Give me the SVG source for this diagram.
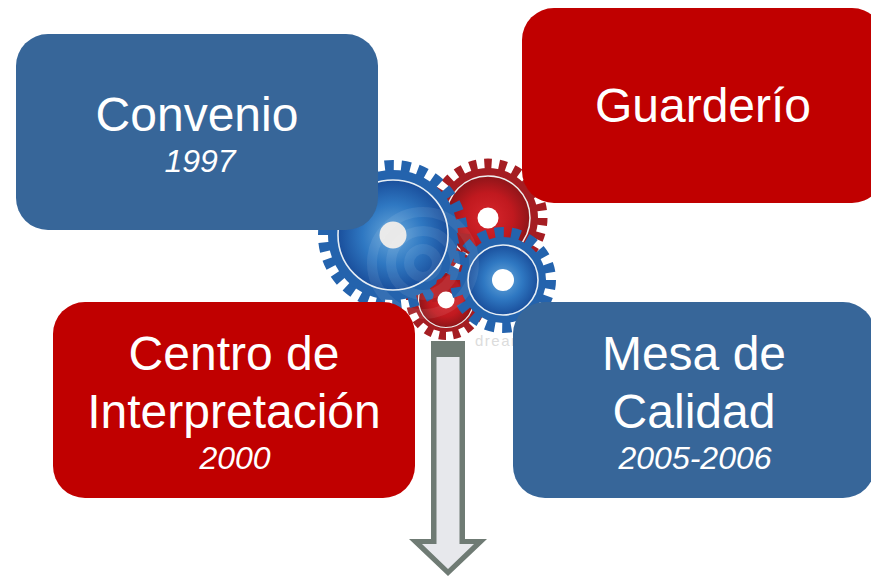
<svg xmlns="http://www.w3.org/2000/svg" width="871" height="576" viewBox="0 0 871 576">
<style>
text{font-family:"Liberation Sans",Arial,sans-serif;fill:#fff;text-anchor:middle}
.t{font-size:48px}
.d{font-size:32px;font-style:italic}
.b{fill:#376699}
.r{fill:#c00000}
.ring{fill:none;stroke:#e6eef5;stroke-width:1.6}
.hole{fill:#fff}
.tb{fill:none;stroke:#2463ad}
.tr{fill:none;stroke:#a51d22}
</style>
<defs>
<radialGradient id="gb"><stop offset="0" stop-color="#6aa9dc"/><stop offset=".55" stop-color="#2f78c2"/><stop offset="1" stop-color="#1a4f9c"/></radialGradient>
<radialGradient id="gr"><stop offset="0" stop-color="#d8262c"/><stop offset=".6" stop-color="#c0191f"/><stop offset="1" stop-color="#8e1519"/></radialGradient>
</defs>
<rect width="871" height="576" fill="#fff"/>
<g id="gears">
<text x="475" y="346" font-size="15" letter-spacing="1.5" style="fill:#dcdcdc;text-anchor:start">dreamstime</text>
<g id="gear-red-top">
<circle class="tr" cx="488" cy="218" r="53" stroke-width="13" pathLength="46" stroke-dasharray="1 1"/>
<circle cx="488" cy="218" r="50" fill="#a51d22"/>
<circle cx="488" cy="218" r="42" fill="url(#gr)" stroke="#eee" stroke-width="1.5"/>
<circle class="hole" cx="488" cy="218" r="10.5"/>
</g>
<g id="gear-red-small">
<circle class="tr" cx="446" cy="300" r="35" stroke-width="10" pathLength="32" stroke-dasharray="1 1"/>
<circle cx="446" cy="300" r="32" fill="#a51d22"/>
<circle cx="446" cy="300" r="27.5" fill="url(#gr)" stroke="#eee" stroke-width="1.2"/>
</g>
<g id="gear-blue-big">
<circle class="tb" cx="393" cy="235" r="68" stroke-width="14" pathLength="52" stroke-dasharray="1.1 .9"/>
<circle cx="393" cy="235" r="65" fill="#2463ad"/>
<circle cx="393" cy="235" r="55" fill="url(#gb)"/>
<circle class="ring" cx="393" cy="235" r="55"/>
<circle cx="393" cy="235" r="13.5" fill="#e9e9e9"/>
</g>
<path d="M437 280 L452 274 L461 288 L456 300 L432 302 Z" fill="#b51c22"/>
<path d="M457 233 L470 234 L474 250 L461 252 Z" fill="#a51d22"/>
<circle class="hole" cx="446" cy="300" r="8.5"/>
<g id="gear-blue-small">
<circle class="tb" cx="503" cy="280" r="46" stroke-width="14" pathLength="36" stroke-dasharray="1.1 .9"/>
<circle cx="503" cy="280" r="43" fill="#2463ad"/>
<circle cx="503" cy="280" r="35" fill="url(#gb)"/>
<circle class="ring" cx="503" cy="280" r="35"/>
<circle class="hole" cx="503" cy="280" r="11"/>
</g>
<g fill="none" stroke="#fff" stroke-opacity=".08" stroke-width="10">
<circle cx="423" cy="263" r="14"/><circle cx="423" cy="263" r="32"/><circle cx="423" cy="263" r="51"/>
</g>
</g>
<g id="connectors">
<polygon fill="#6f7b74" points="431,341 465,341 465,539 487,539 448,576 409,539 431,539"/>
<polygon fill="#e7e8ec" points="436.5,357 459.5,357 459.5,544 474,544 448,569 422,544 436.5,544"/>
</g>
<g id="convenio">
<rect class="b" x="16" y="34" width="362" height="196" rx="32"/>
<text class="t" x="197" y="131">Convenio</text>
<text class="d" x="200" y="172">1997</text>
</g>
<g id="guarderio">
<rect class="r" x="522" y="8" width="362" height="195" rx="32"/>
<text class="t" x="703" y="122">Guarderío</text>
</g>
<g id="centro">
<rect class="r" x="53" y="302" width="362" height="196" rx="32"/>
<text class="t" x="234" y="370">Centro de</text>
<text class="t" x="234" y="428">Interpretación</text>
<text class="d" x="235" y="469">2000</text>
</g>
<g id="mesa">
<rect class="b" x="513" y="302" width="362" height="196" rx="32"/>
<text class="t" x="694" y="370">Mesa de</text>
<text class="t" x="694" y="428">Calidad</text>
<text class="d" x="695" y="469">2005-2006</text>
</g>
</svg>
